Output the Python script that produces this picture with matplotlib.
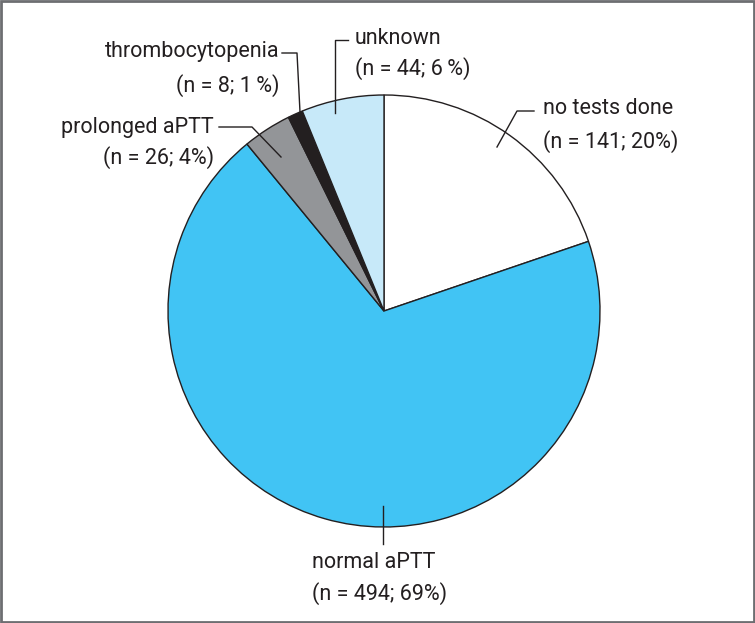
import matplotlib
matplotlib.use("Agg")
import matplotlib.pyplot as plt
from matplotlib.patches import Rectangle

# data
categories = ["no tests done", "normal aPTT", "prolonged aPTT", "thrombocytopenia", "unknown"]
counts = [141, 494, 26, 8, 44]
percents = ["20%", "69%", "4%", "1\u2009%", "6\u2009%"]
colors = ["#ffffff", "#41c4f4", "#939598", "#231f20", "#c7e9f9"]

plt.rcParams["font.family"] = ["Roboto", "DejaVu Sans"]

W, H = 755, 623
fig = plt.figure(figsize=(W / 100, H / 100), dpi=100)
ax = fig.add_axes([0, 0, 1, 1])

def py(y):
    # pixel row -> data y
    return H - y

cx, cy, r = 384, py(311), 216
ax.pie(counts, colors=colors, startangle=90, counterclock=False,
       center=(cx, cy), radius=r, frame=True,
       wedgeprops=dict(edgecolor="#231f20", linewidth=1.0))
ax.set_xlim(0, W)
ax.set_ylim(0, H)
ax.set_aspect("equal")
ax.axis("off")

lc = dict(color="#231f20", lw=1.0)
fs = 15.5
tc = "#231f20"

def label(i, x, y1, y2, ha):
    ax.text(x, py(y1), categories[i], ha=ha, va="center", fontsize=fs, color=tc)
    ax.text(x, py(y2), f"(n = {counts[i]}; {percents[i]})", ha=ha, va="center",
            fontsize=fs, color=tc)

# no tests done
ax.plot([497, 517, 534], [py(147), py(111), py(111)], **lc)
label(0, 543, 108, 142, "left")
# normal aPTT
ax.plot([383, 383], [py(506), py(544)], **lc)
label(1, 312, 562, 594, "left")
# prolonged aPTT
ax.plot([219, 252, 281], [py(127), py(127), py(157)], **lc)
label(2, 214, 127, 158, "right")
# thrombocytopenia
ax.plot([282, 297, 300], [py(53), py(53), py(112)], **lc)
label(3, 280, 52, 86, "right")
# unknown
ax.plot([348, 335, 335], [py(40), py(40), py(113)], **lc)
label(4, 355, 38, 69, "left")

ax.add_patch(Rectangle((1, 1), W - 2, H - 2, fill=False, edgecolor="#6d6e71",
                       linewidth=2, clip_on=False))

fig.savefig("out.png", dpi=100)
